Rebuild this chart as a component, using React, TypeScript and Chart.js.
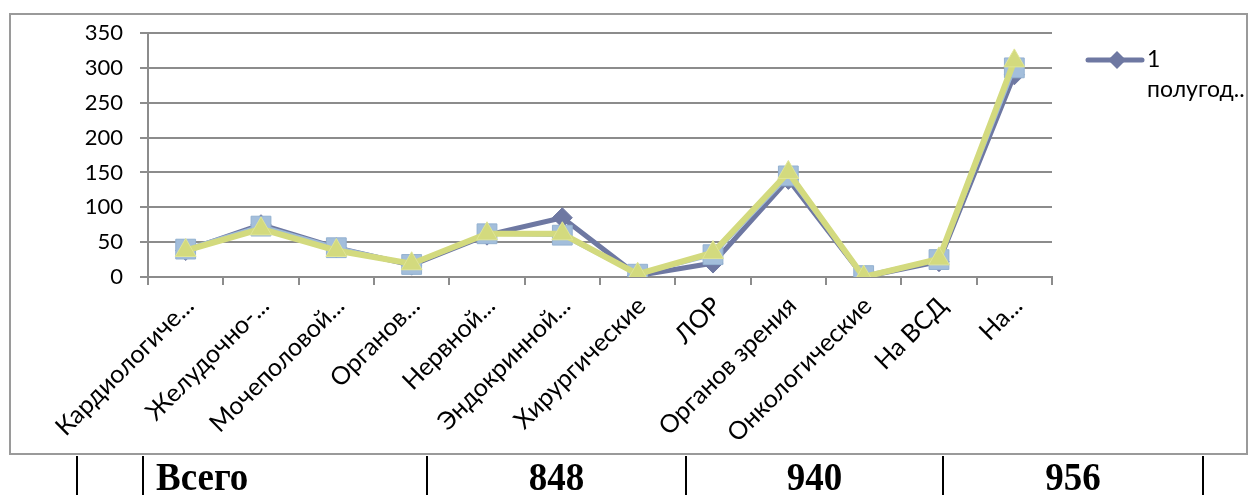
import React, { useEffect, useRef } from "react";
import { Chart, registerables } from "chart.js";

Chart.register(...registerables);

const categories = [
  "Кардиологиче...",
  "Желудочно-...",
  "Мочеполовой...",
  "Органов...",
  "Нервной...",
  "Эндокринной...",
  "Хирургические",
  "ЛОР",
  "Органов зрения",
  "Онкологические",
  "На ВСД",
  "На...",
];

const series1Name = "1 полугодие";
const series1 = [38, 75, 42, 17, 60, 85, 2, 20, 140, 0, 22, 290];
const series2Name = "2 полугодие";
const series2 = [40, 73, 42, 18, 62, 60, 4, 32, 145, 2, 25, 300];
const series3Name = "год";
const series3 = [38, 69, 38, 19, 62, 62, 4, 35, 150, 0, 26, 310];

const yTicks = [0, 50, 100, 150, 200, 250, 300, 350];

const legendLines = ["1", "полугод.."];
const totalLabel = "Всего";
const totals = ["848", "940", "956"];

const C1 = "#6e78a2";
const C2 = "#9dbad8";
const C3 = "#d3da7e";

export default function App() {
  const canvasRef = useRef<HTMLCanvasElement | null>(null);

  useEffect(() => {
    const canvas = canvasRef.current;
    if (!canvas) return;
    const chart = new Chart(canvas, {
      type: "line",
      data: {
        labels: categories,
        datasets: [
          {
            label: series1Name,
            data: series1,
            borderColor: C1,
            backgroundColor: C1,
            borderWidth: 5,
            pointStyle: "rectRot",
            pointRadius: 10,
            pointBorderWidth: 1,
            pointBorderColor: C1,
            pointBackgroundColor: C1,
            tension: 0,
            order: 3,
          },
          {
            label: series2Name,
            data: series2,
            borderColor: C2,
            backgroundColor: C2,
            borderWidth: 4,
            pointStyle: "rect",
            pointRadius: 14,
            pointBorderWidth: 1,
            pointBorderColor: "#93b1d0",
            pointBackgroundColor: "#a3bedb",
            tension: 0,
            order: 2,
          },
          {
            label: series3Name,
            data: series3,
            borderColor: C3,
            backgroundColor: C3,
            borderWidth: 6,
            pointStyle: "triangle",
            pointRadius: 12,
            pointBorderWidth: 1,
            pointBorderColor: "#dfe596",
            pointBackgroundColor: C3,
            tension: 0,
            order: 1,
          },
        ],
      },
      options: {
        responsive: false,
        animation: false,
        devicePixelRatio: 1,
        layout: { padding: { left: 10, top: 33, right: 199, bottom: 0 } },
        plugins: {
          legend: { display: false },
          tooltip: { enabled: false },
        },
        scales: {
          x: {
            offset: true,
            ticks: {
              font: { family: "Lato", size: 25 },
              color: "#000",
              minRotation: 45,
              maxRotation: 45,
              autoSkip: false,
              padding: 6,
              labelOffset: 4,
            },
            grid: {
              offset: true,
              drawOnChartArea: false,
              drawTicks: true,
              tickLength: 8,
              color: "#8c8c8c",
              lineWidth: 2,
            },
            border: { display: true, color: "#8c8c8c", width: 2 },
            afterFit: (s: any) => {
              s.height = 178;
            },
          },
          y: {
            min: yTicks[0],
            max: yTicks[yTicks.length - 1],
            afterBuildTicks: (s: any) => {
              s.ticks = yTicks.map((v) => ({ value: v }));
            },
            ticks: {
              font: { family: "Lato", size: 22 },
              color: "#000",
              padding: 17,
            },
            grid: {
              color: "#8c8c8c",
              lineWidth: 2,
              tickLength: 8,
              drawTicks: true,
            },
            border: { display: true, color: "#8c8c8c", width: 2 },
            afterFit: (s: any) => {
              s.width = 138;
            },
          },
        },
      },
    });
    return () => chart.destroy();
  }, []);

  const vLines = [77, 143, 427, 686, 943, 1203];
  const cellCenters = [556.5, 814.5, 1073];

  const tableText: React.CSSProperties = {
    position: "absolute",
    top: 459,
    fontFamily: "'Liberation Serif'",
    fontWeight: "bold",
    fontSize: 37,
    lineHeight: "37px",
    color: "#000",
    whiteSpace: "nowrap",
    transform: "scaleY(1.1)",
    transformOrigin: "0 31px",
  };

  return (
    <div
      style={{
        position: "fixed",
        left: 0,
        top: 0,
        width: 1251,
        height: 495,
        overflow: "hidden",
        background: "#fff",
      }}
    >
      <div
        style={{
          position: "absolute",
          left: 9,
          top: 13,
          width: 1239,
          height: 442,
          border: "2px solid #9a9a9a",
          boxSizing: "border-box",
        }}
      />
      <canvas
        ref={canvasRef}
        width={1251}
        height={455}
        style={{ position: "absolute", left: 0, top: 0, width: 1251, height: 455 }}
      />
      <svg
        style={{ position: "absolute", left: 1085, top: 50 }}
        width={60}
        height={20}
      >
        <line x1={3} y1={10} x2={57} y2={10} stroke={C1} strokeWidth={5} strokeLinecap="round" />
        <polygon points="32,1 41,10 32,19 23,10" fill={C1} />
      </svg>
      <div
        style={{
          position: "absolute",
          left: 1147,
          top: 43,
          fontFamily: "Lato",
          fontSize: 23,
          lineHeight: "30px",
          color: "#000",
          whiteSpace: "nowrap",
        }}
      >
        {legendLines.map((t, i) => (
          <div key={i}>{t}</div>
        ))}
      </div>
      {vLines.map((x, i) => (
        <div
          key={i}
          style={{
            position: "absolute",
            left: x - 1,
            top: 456,
            width: 2,
            height: 40,
            background: "#000",
          }}
        />
      ))}
      <div style={{ ...tableText, left: 156 }}>{totalLabel}</div>
      {totals.map((t, i) => (
        <div
          key={i}
          style={{ ...tableText, left: cellCenters[i] - 60, width: 120, textAlign: "center" }}
        >
          {t}
        </div>
      ))}
    </div>
  );
}
